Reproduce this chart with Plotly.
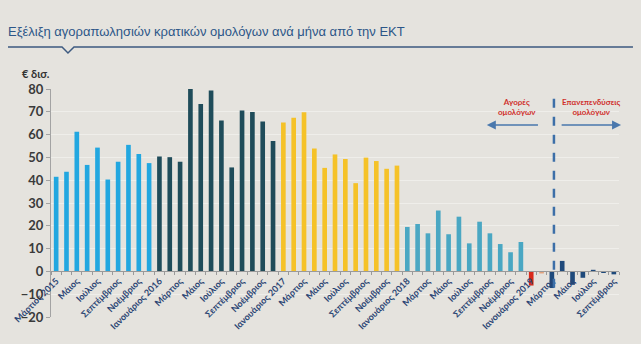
import plotly.graph_objects as go

# ---- data ----
v2015 = [41.5, 43.7, 61.3, 46.7, 54.3, 40.3, 48.1, 55.5, 51.5, 47.5]          # Mar-Dec 2015
v2016 = [50.4, 50.1, 48.1, 80.1, 73.4, 79.3, 66.2, 45.6, 70.6, 69.9, 65.8, 57.2]
v2017 = [65.3, 67.4, 69.8, 53.9, 45.4, 51.3, 49.3, 38.7, 49.9, 48.4, 45.0, 46.4]
v2018 = [19.5, 20.8, 16.7, 26.7, 16.3, 24.0, 12.3, 21.8, 16.7, 12.0, 8.4, 12.9]
v2019 = [-6.2, -0.9, -7.3, 4.6, -5.9, -2.8, 0.7, -0.4, -1.3]                     # Jan-Sep 2019

tick_labels = ["Μάρτιος 2015", "Μάιος", "Ιούλιος", "Σεπτέμβριος", "Νοέμβριος",
               "Ιανουάριος 2016", "Μάρτιος", "Μάιος", "Ιούλιος", "Σεπτέμβριος", "Νοέμβριος",
               "Ιανουάριος 2017", "Μάρτιος", "Μάιος", "Ιούλιος", "Σεπτέμβριος", "Νοέμβριος",
               "Ιανουάριος 2018", "Μάρτιος", "Μάιος", "Ιούλιος", "Σεπτέμβριος", "Νοέμβριος",
               "Ιανουάριος 2019", "Μάρτιος", "Μάιος", "Ιούλιος", "Σεπτέμβριος"]

title_text = "Εξέλιξη αγοραπωλησιών κρατικών ομολόγων ανά μήνα από την ΕΚΤ"
unit_text = "€ δισ."
note_buy = "Αγορές<br>ομολόγων"
note_reinv = "Επανεπενδύσεις<br>ομολόγων"

# ---- styles ----
C2015, C2016, C2017, C2018 = "#22a7e0", "#1f4c5a", "#f5c228", "#4aa7c3"
C2019_jan, C2019_feb, C2019_rest = "#d92a1b", "#e2a27c", "#1f4a7b"
BG = "#e5e3de"

values = v2015 + v2016 + v2017 + v2018 + v2019
colors = ([C2015] * len(v2015) + [C2016] * len(v2016) + [C2017] * len(v2017)
          + [C2018] * len(v2018) + [C2019_jan, C2019_feb] + [C2019_rest] * (len(v2019) - 2))
xs = list(range(len(values)))

fig = go.Figure()
fig.add_trace(go.Bar(x=xs, y=values, marker=dict(color=colors, line=dict(width=0)),
                     width=0.45, hoverinfo="y", showlegend=False))

ymin, ymax = -20, 80
zero_pos = (0 - ymin) / (ymax - ymin)

fig.update_layout(
    width=641, height=344,
    margin=dict(l=51, r=22, t=89, b=27),
    paper_bgcolor=BG, plot_bgcolor=BG,
    bargap=0.5,
    font=dict(family="Lato, Liberation Sans, sans-serif"),
    title=dict(text=title_text, x=8 / 641, xanchor="left", xref="container",
               y=1 - 31 / 344, yanchor="middle", yref="container",
               font=dict(family="Liberation Sans, Arial, sans-serif", size=13, color="#2c5688")),
    xaxis=dict(range=[-0.5, len(values) - 0.5], anchor="free", position=zero_pos,
               tickmode="array", tickvals=xs[::2], ticktext=tick_labels, tickangle=-45,
               ticks="", showline=True, linecolor="#9a9a9a", linewidth=1,
               showgrid=False, zeroline=False,
               tickfont=dict(size=9, color="#2b4574", family="Lato", weight="bold"),
               minor=dict(ticks="outside", tick0=0.5, dtick=1, ticklen=3, tickcolor="#9a9a9a",
                          showgrid=False)),
    yaxis=dict(range=[ymin, ymax], dtick=10, showline=True, linecolor="#a3a3a3", linewidth=1,
               ticks="outside", ticklen=4, tickcolor="#a3a3a3",
               gridcolor="#efeeea", gridwidth=1, zeroline=False,
               tickfont=dict(size=13, color="#3a3a3a", family="Lato", weight="bold")),
)

# unit label
fig.add_annotation(text=unit_text, xref="paper", yref="paper", x=(20 - 51) / 568, y=(317 - 73) / 228,
                   xanchor="left", yanchor="middle", showarrow=False,
                   font=dict(size=11, color="#333333", family="Lato", weight="bold"))

# title rule with notch
def px2paper(px, py):
    return (px - 51) / 568, (317 - py) / 228
pts = [(8, 47), (62, 47), (68, 53), (74, 47), (633, 47)]
path = "M " + " L ".join(f"{px2paper(a, b)[0]:.4f},{px2paper(a, b)[1]:.4f}" for a, b in pts)
fig.add_shape(type="path", path=path, xref="paper", yref="paper",
              line=dict(color="#3d5a80", width=1.5))

# dashed separator
fig.add_shape(type="line", x0=48.2, x1=48.2, y0=-7.2, y1=78.7, xref="x", yref="y",
              line=dict(color="#3d6fa8", width=2.5, dash="dash"))

# notes
fig.add_annotation(text=note_buy, x=44.6, y=72, xref="x", yref="y", showarrow=False,
                   font=dict(size=8, color="#d0302c", family="Lato", weight="bold"))
fig.add_annotation(text=note_reinv, x=51.8, y=72, xref="x", yref="y", showarrow=False,
                   font=dict(size=8, color="#d0302c", family="Lato", weight="bold"))
# arrows
fig.add_annotation(x=41.7, y=64.2, ax=46.8, ay=64.2, xref="x", yref="y", axref="x", ayref="y",
                   text="", showarrow=True, arrowhead=2, arrowsize=1.2, arrowwidth=1.5,
                   arrowcolor="#4a78ad")
fig.add_annotation(x=54.7, y=64.2, ax=48.8, ay=64.2, xref="x", yref="y", axref="x", ayref="y",
                   text="", showarrow=True, arrowhead=2, arrowsize=1.2, arrowwidth=1.5,
                   arrowcolor="#4a78ad")

fig.write_html("out.html")
